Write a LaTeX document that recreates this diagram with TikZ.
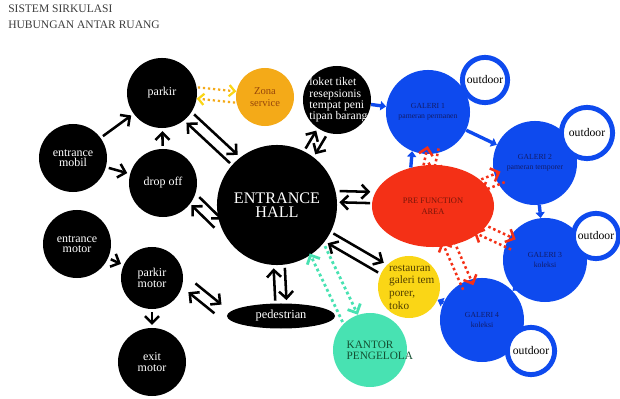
\documentclass[tikz,border=0pt]{standalone}
\usepackage{fontspec}
\setmainfont{Liberation Serif}
\usepackage{tikz}
\usetikzlibrary{arrows.meta,calc,shapes.geometric}

\definecolor{galblue}{RGB}{14,74,238}
\definecolor{prered}{RGB}{244,48,22}
\definecolor{zonaorange}{RGB}{244,170,24}
\definecolor{restyellow}{RGB}{250,214,22}
\definecolor{kantorteal}{RGB}{72,226,178}
\definecolor{galtext}{RGB}{18,28,104}
\definecolor{pretext}{RGB}{120,22,10}
\definecolor{zonatext}{RGB}{150,70,10}
\definecolor{resttext}{RGB}{80,62,0}
\definecolor{kantortext}{RGB}{20,80,50}
\definecolor{titlegray}{RGB}{60,60,60}

\tikzset{
  hub/.style={circle,fill=black,text=white,inner sep=0pt,align=center,
    font=\fontsize{8.5}{7.5}\selectfont},
  galeri/.style={circle,fill=galblue,text=galtext,inner sep=0pt,align=center,
    minimum size=2.1cm,font=\fontsize{5.5}{7}\selectfont},
  outdoor/.style={circle,draw=galblue,line width=3.5pt,fill=white,inner sep=0pt,
    font=\fontsize{8.3}{9}\selectfont},
  inlabel/.style={align=left,inner sep=0pt},
  blk/.style={line width=1.8pt,-{Straight Barb[length=5pt,width=10pt]},
    shorten <=2pt,shorten >=2pt},
  orgdot/.style={draw=zonaorange,line width=1.6pt,dotted,
    -{Straight Barb[length=4pt,width=8pt,color=restyellow]}},
  tealdot/.style={draw=kantorteal,line width=2pt,dotted,
    -{Straight Barb[length=5pt,width=10pt]}},
  reddot/.style={draw=prered,line width=1.8pt,dotted,
    -{Straight Barb[length=5pt,width=10pt]},shorten <=-5pt,shorten >=-5pt},
  bluearr/.style={draw=galblue,line width=2.4pt,-{Triangle[length=4pt,width=6.5pt]}}
}

% two opposite arrows side by side
\newcommand{\twoway}[4][blk]{%
  \draw[#1] ($(#3)!#2!90:(#4)$) -- ($(#4)!#2!-90:(#3)$);
  \draw[#1] ($(#4)!#2!90:(#3)$) -- ($(#3)!#2!-90:(#4)$);
}

\begin{document}
\begin{tikzpicture}[x=0.025cm,y=-0.025cm]
\useasboundingbox (0,0) rectangle (620,399);

\node[anchor=base west,inner sep=0pt,text=titlegray,font=\fontsize{8.2}{9}\selectfont] (judul1) at (8,13) {SISTEM SIRKULASI};
\node[anchor=base west,inner sep=0pt,text=titlegray,font=\fontsize{8.2}{9}\selectfont] (judul2) at (8,29) {HUBUNGAN ANTAR RUANG};

\node[hub,minimum size=1.75cm] (parkir) at (162,93) {parkir};
\node[hub,minimum size=1.7cm] (emobil) at (73,158) {entrance\\mobil};
\node[hub,minimum size=1.7cm] (dropoff) at (163,183) {drop off};
\node[hub,minimum size=1.7cm] (emotor) at (77,244) {entrance\\motor};
\node[hub,minimum size=1.55cm] (pmotor) at (152,278) {parkir\\motor};
\node[hub,minimum size=1.7cm] (exitmotor) at (152,362) {exit\\motor};
\node[circle,fill=zonaorange,text=zonatext,inner sep=0pt,align=center,minimum size=1.45cm,
  font=\fontsize{7.5}{8}\selectfont] (zona) at (265,97) {Zona\\service};
\node[circle,fill=black,minimum size=1.7cm,inner sep=0pt,
  label={[inlabel,xshift=1pt,text=white,font=\fontsize{8.3}{8}\selectfont]center:loket tiket\\resepsionis\\tempat peni\\tipan barang}] (loket) at (337,100) {};
\node[hub,minimum size=3cm,font=\fontsize{11.5}{10}\selectfont] (hall) at (277,205) {ENTRANCE\\HALL};
\node[ellipse,fill=black,text=white,inner sep=0pt,minimum width=2.7cm,minimum height=0.625cm,
  font=\fontsize{8.8}{9}\selectfont] (ped) at (281,316) {pedestrian};
\node[circle,fill=kantorteal,minimum size=1.85cm,inner sep=0pt,
  label={[inlabel,xshift=7pt,text=kantortext,font=\fontsize{8}{8}\selectfont]center:KANTOR\\PENGELOLA}] (kantor) at (370,350) {};
\node[circle,fill=restyellow,minimum size=1.55cm,inner sep=0pt,
  label={[inlabel,xshift=2pt,text=resttext,font=\fontsize{8}{9}\selectfont]center:restauran\\galeri tem\\porer,\\toko}] (resto) at (409,287) {};
\node[ellipse,fill=prered,text=pretext,inner sep=0pt,minimum width=3.05cm,minimum height=2.05cm,
  align=center,font=\fontsize{6}{8}\selectfont] (prefunc) at (433,206) {PRE FUNCTION\\AREA};

\node[galeri] (g1) at (428,112) {GALERI 1\\pameran permanen};
\node[galeri] (g2) at (535,163) {GALERI 2\\pameran temporer};
\node[galeri] (g3) at (545,260) {GALERI 3\\koleksi};
\node[galeri] (g4) at (482,320) {GALERI 4\\koleksi};
\node[outdoor,minimum size=1.13cm] (out1) at (485,80) {outdoor};
\node[outdoor,minimum size=1.28cm] (out2) at (587,133) {outdoor};
\node[outdoor,minimum size=1.13cm] (out3) at (596,236) {outdoor};
\node[outdoor,minimum size=1.18cm] (out4) at (531,351) {outdoor};

\draw[blk] (emobil) -- (parkir);
\draw[blk] (emobil) -- (dropoff);
\draw[blk] (dropoff) -- (parkir);
\draw[blk] (emotor) -- (pmotor);
\draw[blk] (pmotor) -- (exitmotor);
\twoway{4pt}{parkir.-42}{hall.133}
\twoway{4pt}{dropoff.-28}{hall.200}
\twoway{4pt}{hall.58}{loket.-115}
\twoway{4pt}{hall.8}{prefunc.172}
\twoway{4pt}{hall.-32}{resto.145}
\twoway{4pt}{hall.-88}{ped.north}
\twoway[blk,shorten <=8pt,shorten >=8pt]{4pt}{pmotor.-5}{ped.west}

\twoway[orgdot]{4pt}{parkir.east}{zona.west}
\twoway[tealdot]{6pt}{hall.-48}{kantor.122}

\twoway[reddot]{4pt}{prefunc.95}{g1.-85}
\twoway[reddot]{4pt}{prefunc.23}{g2.203}
\twoway[reddot]{4pt}{prefunc.-26}{g3.154}
\twoway[reddot]{4pt}{prefunc.-67}{g4.113}

\draw[bluearr] (loket) -- (g1);
\draw[bluearr] (g1) -- (g2);
\draw[bluearr] (g2) -- (g3);
\draw[bluearr] (g3) -- (g4);
\draw[bluearr] (g4) -- (resto);
\draw[bluearr] (prefunc.120) -- (g1.-112);
\end{tikzpicture}
\end{document}
